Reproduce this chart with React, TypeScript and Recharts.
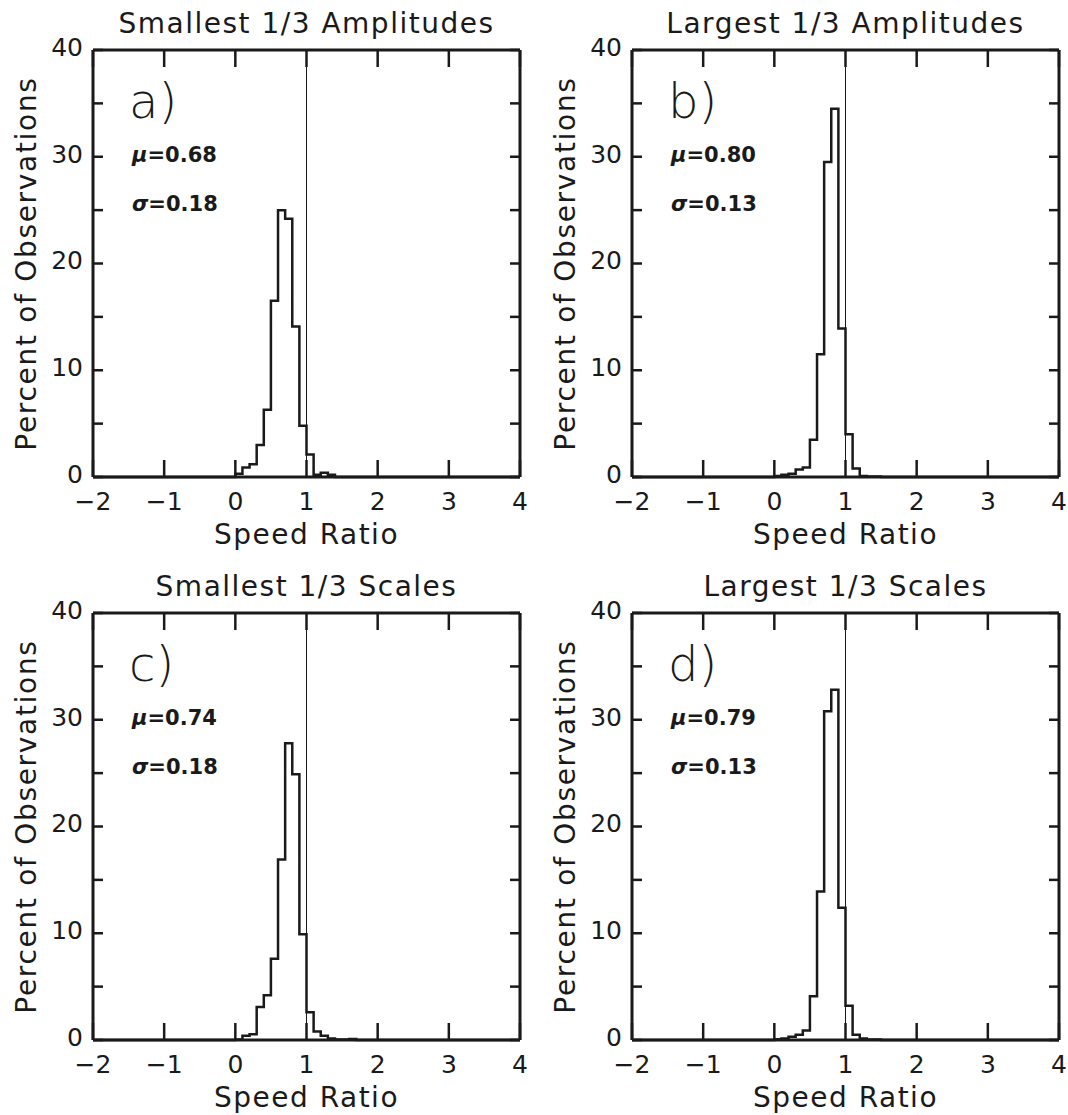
import React from 'react';
import { ComposedChart, Line, XAxis, YAxis, ReferenceLine, Label } from 'recharts';

// Histogram bin left edges (bin width 0.1); first/last points pad the line to the axis ends
const binEdges = [-2, 0, 0.1, 0.2, 0.3, 0.4, 0.5, 0.6, 0.7, 0.8, 0.9, 1.0, 1.1, 1.2, 1.3, 1.4, 1.5, 1.6, 1.7, 4];

const smallAmpPct = [0, 0.3, 0.9, 1.2, 3.0, 6.3, 16.5, 25.0, 24.2, 14.1, 4.8, 2.1, 0.2, 0.4, 0.2, 0, 0, 0, 0, 0];
const largeAmpPct = [0, 0.1, 0.2, 0.3, 0.7, 0.9, 3.5, 11.5, 29.5, 34.5, 13.9, 4.0, 0.8, 0.1, 0.05, 0.05, 0, 0, 0, 0];
const smallScalePct = [0, 0.05, 0.4, 0.55, 3.1, 4.2, 7.6, 16.9, 27.8, 24.9, 9.9, 2.6, 0.8, 0.4, 0.15, 0.05, 0.05, 0.1, 0, 0];
const largeScalePct = [0, 0.06, 0.15, 0.3, 0.5, 0.9, 4.1, 13.9, 30.8, 32.8, 12.4, 3.2, 0.5, 0.15, 0.05, 0.05, 0, 0, 0, 0];

const xTicks = [-2, -1, 0, 1, 2, 3, 4];
const yTicks = [0, 5, 10, 15, 20, 25, 30, 35, 40];

const panelTitles = ['Smallest 1/3 Amplitudes', 'Largest 1/3 Amplitudes', 'Smallest 1/3 Scales', 'Largest 1/3 Scales'];
const panelLetters = ['a)', 'b)', 'c)', 'd)'];
const meanValues = ['0.68', '0.80', '0.74', '0.79'];
const sigmaValues = ['0.18', '0.13', '0.18', '0.13'];
const panelSeries = [smallAmpPct, largeAmpPct, smallScalePct, largeScalePct];

const W = 539;
const H = 563;
// plot area: x 93..520, y 50..477 inside each panel
const XB_H = 60;
const XT_H = 20;
const YL_W = 60;
const YR_W = 10;
const M = { top: 50 - XT_H, left: 93 - YL_W, right: W - 520 - YR_W, bottom: H - 477 - XB_H };
const INK = '#1a1a1a';
const FONT = '"DejaVu Sans", sans-serif';

const fmtX = (v: number) => String(v).replace('-', '\u2212');
const fmtY = (v: number) => (v % 10 === 0 ? String(v) : '');
const blank = () => '';

function Panel({ idx, left, top }: { idx: number; left: number; top: number }) {
  const values = panelSeries[idx];
  const data = binEdges.map((x, i) => ({ x, pct: values[i] }));
  const plotCy = 50 + (477 - 50) / 2;
  const axisLine = { stroke: INK, strokeWidth: 3 };
  const tickLine = { stroke: INK, strokeWidth: 2.5 };
  return (
    <div style={{ position: 'absolute', left, top, width: W, height: H }}>
      <ComposedChart width={W} height={H} data={data} margin={M}>
        <XAxis
          xAxisId="b"
          dataKey="x"
          type="number"
          domain={[-2, 4]}
          ticks={xTicks}
          interval={0}
          height={XB_H}
          tickSize={-17}
          tickMargin={32}
          axisLine={axisLine}
          tickLine={tickLine}
          tick={{ fill: INK, fontSize: 25, fontFamily: FONT }}
          tickFormatter={fmtX}
        >
          <Label
            value="Speed Ratio"
            position="bottom"
            offset={-13}
            style={{ fill: INK, fontSize: 28, fontFamily: FONT, letterSpacing: 1.5 }}
          />
        </XAxis>
        <XAxis
          xAxisId="t"
          orientation="top"
          type="number"
          dataKey="x"
          domain={[-2, 4]}
          ticks={xTicks}
          interval={0}
          height={XT_H}
          tickSize={-17}
          axisLine={axisLine}
          tickLine={tickLine}
          tick={{ fill: INK, fontSize: 1 }}
          tickFormatter={blank}
        >
          <Label
            value={panelTitles[idx]}
            position="top"
            offset={-3}
            style={{ fill: INK, fontSize: 28, fontFamily: FONT, letterSpacing: 1.5 }}
          />
        </XAxis>
        <YAxis
          yAxisId="l"
          type="number"
          domain={[0, 40]}
          ticks={yTicks}
          interval={0}
          width={YL_W}
          tickSize={-10}
          tickMargin={20}
          axisLine={axisLine}
          tickLine={tickLine}
          tick={{ fill: INK, fontSize: 25, fontFamily: FONT, dy: -3 }}
          tickFormatter={fmtY}
        />
        <YAxis
          yAxisId="r"
          orientation="right"
          type="number"
          domain={[0, 40]}
          ticks={yTicks}
          interval={0}
          width={YR_W}
          tickSize={-10}
          axisLine={axisLine}
          tickLine={tickLine}
          tick={{ fill: INK, fontSize: 1 }}
          tickFormatter={blank}
        />
        <ReferenceLine xAxisId="b" yAxisId="l" x={1} stroke={INK} strokeWidth={1} />
        <Line
          xAxisId="b"
          yAxisId="l"
          type="stepAfter"
          dataKey="pct"
          stroke={INK}
          strokeWidth={2.5}
          dot={false}
          activeDot={false}
          isAnimationActive={false}
        />
        <Line
          xAxisId="t"
          yAxisId="r"
          type="stepAfter"
          dataKey="pct"
          stroke="none"
          strokeWidth={0}
          dot={false}
          activeDot={false}
          legendType="none"
          isAnimationActive={false}
        />
      </ComposedChart>
      <svg
        width={W}
        height={H}
        style={{ position: 'absolute', left: 0, top: 0, pointerEvents: 'none' }}
      >
        <text
          x={36}
          y={plotCy}
          transform={`rotate(-90 36 ${plotCy})`}
          textAnchor="middle"
          fill={INK}
          fontSize={28}
          fontFamily={FONT}
          letterSpacing={1.7}
        >
          Percent of Observations
        </text>
        <text x={129} y={118} fill={INK} fontSize={48} fontWeight={200} fontFamily={FONT}>
          {panelLetters[idx]}
        </text>
        <text x={132} y={162} fill={INK} fontSize={21} fontWeight="bold" fontFamily={FONT}>
          <tspan fontStyle="italic">μ</tspan>={meanValues[idx]}
        </text>
        <text x={132} y={211} fill={INK} fontSize={21} fontWeight="bold" fontFamily={FONT}>
          <tspan fontStyle="italic">σ</tspan>={sigmaValues[idx]}
        </text>
      </svg>
    </div>
  );
}

export default function App() {
  return (
    <div
      style={{
        position: 'absolute',
        left: 0,
        top: 0,
        width: 1068,
        height: 1115,
        background: '#ffffff',
        overflow: 'hidden',
      }}
    >
      <Panel idx={0} left={0} top={0} />
      <Panel idx={1} left={539} top={0} />
      <Panel idx={2} left={0} top={563} />
      <Panel idx={3} left={539} top={563} />
    </div>
  );
}
